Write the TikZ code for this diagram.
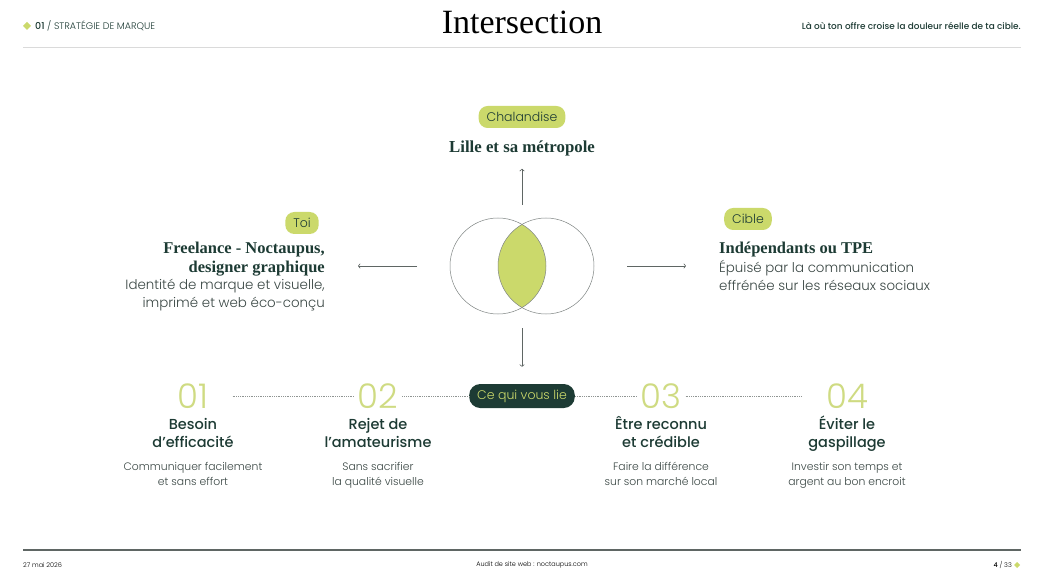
\documentclass[tikz,border=0pt]{standalone}
\usepackage{fontspec}
\setmainfont{Liberation Serif}
\setsansfont{Poppins Light}[BoldFont=Poppins Medium]
\usetikzlibrary{positioning, arrows.meta, calc}
\definecolor{cLime}{HTML}{CBD96B}
\definecolor{cNum}{HTML}{CFDB82}
\definecolor{cDark}{HTML}{1D3B34}
\definecolor{cText}{HTML}{3A4744}
\definecolor{cRule}{HTML}{DADADA}
\definecolor{cLine}{HTML}{5F6664}

\begin{document}
\begin{tikzpicture}[
    x=1pt, y=-1pt,
    % --- Node styles ---
    pill/.style={
        fill=cLime, rounded corners=9pt, inner xsep=8pt, inner ysep=0pt,
        minimum height=22pt, text=cDark,
        font=\sffamily\fontsize{12.5}{14}\selectfont
    },
    darkpill/.style={pill, fill=cDark, text=cLime, minimum height=24pt, rounded corners=11pt},
    head/.style={font=\bfseries\fontsize{16.5}{19}\selectfont, text=cDark, inner sep=0pt},
    desc/.style={font=\sffamily\fontsize{13.4}{18}\selectfont, text=cText, inner sep=0pt},
    num/.style={font=\sffamily\fontsize{34}{34}\selectfont, text=cNum, inner sep=0pt},
    ptitle/.style={font=\sffamily\bfseries\fontsize{14.5}{18}\selectfont, text=cDark, align=center, inner sep=0pt},
    pdesc/.style={font=\sffamily\fontsize{10.8}{15}\selectfont, text=cText, align=center, inner sep=0pt},
    small/.style={font=\sffamily\fontsize{9.5}{11}\selectfont, text=cDark, inner sep=0pt},
    foot/.style={font=\sffamily\fontsize{6.5}{8}\selectfont, text=black, inner sep=0pt},
    % --- Line styles ---
    arr/.style={-{To[length=2.5pt, width=5pt]}, draw=cLine, line width=0.6pt},
    dots/.style={draw=cLine!70, line width=0.5pt, dash pattern=on 0.6pt off 1.2pt},
    venn/.style={draw=cLine!80, line width=0.5pt},
]

% page
\useasboundingbox[fill=white] (0,0) rectangle (1044,588);

% =============================================
% HEADER / FOOTER
% =============================================
\fill[cLime] (27,22) -- (31,26) -- (27,30) -- (23,26) -- cycle;
\node[small, anchor=west] (sect) at (35,26) {\textbf{01} / STRATÉGIE DE MARQUE};
\node[font=\fontsize{34}{36}\selectfont, text=black, inner sep=0pt] (title) at (522,22) {Intersection};
\node[small, anchor=east, font=\sffamily\fontsize{8.9}{11}\selectfont] (tag) at (1021,26) {\textbf{Là où ton offre croise la douleur réelle de ta cible.}};
\draw[cRule, line width=0.8pt] (23,47) -- (1021,47);

\draw[cLine, line width=1.2pt] (23,550) -- (1021,550);
\node[foot, anchor=west] (date) at (23,565) {27 mai 2026};
\node[foot] (site) at (532,565) {Audit de site web : noctaupus.com};
\node[foot, anchor=east] (page) at (1012,565) {\textbf{4} / 33};
\fill[cLime] (1017,562) -- (1020,565) -- (1017,568) -- (1014,565) -- cycle;

% =============================================
% VENN
% =============================================
\coordinate (cl) at (498,266);
\coordinate (cr) at (546,266);
\begin{scope}
    \clip (cl) circle (48);
    \fill[cLime] (cr) circle (48);
\end{scope}
\draw[venn] (cl) circle (48);
\draw[venn] (cr) circle (48);

% =============================================
% TOP: Chalandise
% =============================================
\node[pill] (chal) at (522,117) {Chalandise};
\node[head, font=\bfseries\fontsize{16.8}{19}\selectfont] (lille) at (522,148) {Lille et sa métropole};

% LEFT: Toi
\node[pill] (toi) at (302,223) {Toi};
\node[head, align=right, anchor=north east] (toiH) at (325,242) {Freelance - Noctaupus,\\designer graphique};
\node[desc, align=right, anchor=north east] (toiD) at (325,279) {Identité de marque et visuelle,\\imprimé et web éco-conçu};

% RIGHT: Cible
\node[pill] (cible) at (748,219) {Cible};
\node[head, anchor=north west] (cibH) at (719,242) {Indépendants ou TPE};
\node[desc, align=left, anchor=north west] (cibD) at (719,260) {Épuisé par la communication\\effrénée sur les réseaux sociaux};

% arrows out of the Venn
\coordinate (aUp) at (522,205);
\coordinate (aDn) at (522,328);
\coordinate (aLf) at (417,266);
\coordinate (aRt) at (627,266);
\node[darkpill] (lien) at (522,396) {Ce qui vous lie};
\draw[arr, shorten >=13pt] (aUp) -- (lille.south);
\draw[arr, shorten >=17pt] (aDn) -- (lien.north);
\draw[arr, shorten >=33pt] (aLf) -- (toiH.east |- aLf);
\draw[arr, shorten >=33pt] (aRt) -- (cibH.west |- aRt);

% =============================================
% BOTTOM ROW: shared pains
% =============================================
\node[num] (n1) at (193,396) {01};
\node[num] (n2) at (378,396) {02};
\node[num] (n3) at (661,396) {03};
\node[num] (n4) at (847,396) {04};

\draw[dots, shorten <=24pt, shorten >=4pt] (n1.east) -- (n2.west);
\draw[dots, shorten <=4pt] (n2.east) -- (lien.west);
\draw[dots, shorten >=4pt] (lien.east) -- (n3.west);
\draw[dots, shorten <=4pt, shorten >=24pt] (n3.east) -- (n4.west);

% base anchor = baseline of the last line
\node[ptitle, anchor=base] (t1) at (193,447) {Besoin\\d’efficacité};
\node[ptitle, anchor=base] (t2) at (378,447) {Rejet de\\l’amateurisme};
\node[ptitle, anchor=base] (t3) at (661,447) {Être reconnu\\et crédible};
\node[ptitle, anchor=base] (t4) at (847,447) {Éviter le\\gaspillage};

\node[pdesc, anchor=base] (d1) at (193,485) {Communiquer facilement\\et sans effort};
\node[pdesc, anchor=base] (d2) at (378,485) {Sans sacrifier\\la qualité visuelle};
\node[pdesc, anchor=base] (d3) at (661,485) {Faire la différence\\sur son marché local};
\node[pdesc, anchor=base] (d4) at (847,485) {Investir son temps et\\argent au bon encroit};

\end{tikzpicture}
\end{document}
